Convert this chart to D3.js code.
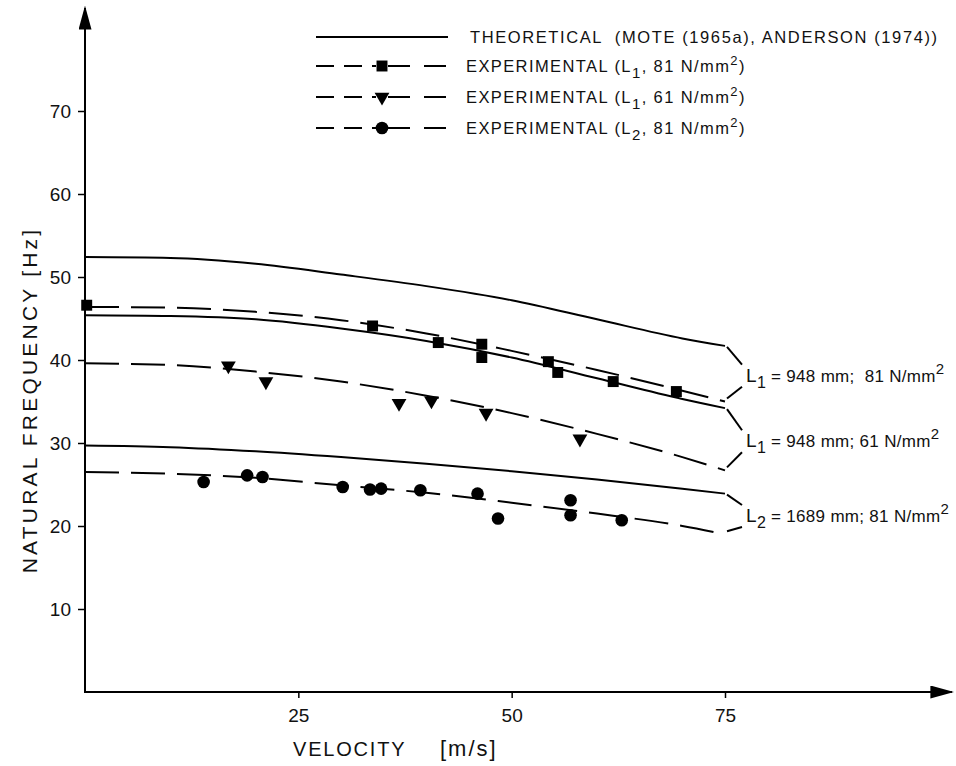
<!DOCTYPE html>
<meta charset="utf-8">
<script src="https://d3js.org/d3.v7.min.js"></script>
<style>
  body { margin: 0; background: #fff; }
  text { font-family: "Liberation Sans", Arial, sans-serif; fill: #111; white-space: pre; }
</style>
<div id="my_dataviz"></div>
<script>

// velocity grid for the smooth curves [m/s]
var velocityGrid = [0, 10, 20, 30, 40, 50, 60, 70, 75];

// theoretical curves [Hz]
var theoryL1_81 = [52.4, 52.3, 51.6, 50.3, 48.9, 47.2, 44.9, 42.6, 41.7];
var theoryL1_61 = [45.4, 45.3, 44.9, 43.8, 42.3, 40.3, 37.8, 35.3, 34.2];
var theoryL2_81 = [29.7, 29.5, 29.0, 28.3, 27.5, 26.6, 25.6, 24.5, 23.9];

// experimental fitted (dashed) curves [Hz]
var expL1_81 = [46.4, 46.3, 45.8, 44.8, 43.2, 41.1, 38.8, 36.3, 35.0];
var expL1_61 = [39.6, 39.4, 38.6, 37.4, 35.7, 33.6, 31.1, 28.3, 26.7];
var expL2_81 = [26.5, 26.3, 25.8, 24.9, 24.0, 22.8, 21.5, 20.0, 19.0];

// measured points [velocity, frequency]
var squaresL1_81 = [[0.2, 46.6], [33.7, 44.1], [41.4, 42.1], [46.5, 41.9], [46.5, 40.3],
                    [54.3, 39.8], [55.4, 38.5], [61.9, 37.4], [69.3, 36.2]];
var trianglesL1_61 = [[16.8, 39.3], [21.2, 37.4], [36.8, 34.8], [40.6, 35.1], [47.0, 33.6], [58.0, 30.5]];
var circlesL2_81 = [[13.9, 25.3], [19.0, 26.1], [20.8, 25.9], [30.2, 24.7], [33.4, 24.4], [34.7, 24.5],
                    [39.3, 24.3], [46.0, 23.9], [48.4, 20.9], [56.9, 23.1], [56.9, 21.3], [62.9, 20.7]];

var xTicks = [25, 50, 75];
var yTicks = [10, 20, 30, 40, 50, 60, 70];

var width = 956, height = 766;

var svg = d3.select("#my_dataviz")
    .append("svg")
    .attr("width", width)
    .attr("height", height);

var x = d3.scaleLinear().domain([0, 75]).range([85, 725]);
var y = d3.scaleLinear().domain([0, 70]).range([692, 111]);

// arrow heads
var defs = svg.append("defs");
defs.append("marker")
    .attr("id", "arrow")
    .attr("viewBox", "0 0 10 10")
    .attr("refX", 9).attr("refY", 5)
    .attr("markerWidth", 24).attr("markerHeight", 13)
    .attr("markerUnits", "userSpaceOnUse")
    .attr("orient", "auto")
    .attr("preserveAspectRatio", "none")
    .append("path")
    .attr("d", "M0,0 L10,5 L0,10 Z")
    .attr("fill", "#000");

// axis lines with arrows
svg.append("line")
    .attr("x1", x(0)).attr("y1", y(0)).attr("x2", 952).attr("y2", y(0))
    .attr("stroke", "#000").attr("stroke-width", 2)
    .attr("marker-end", "url(#arrow)");
svg.append("line")
    .attr("x1", x(0)).attr("y1", y(0) + 1).attr("x2", x(0)).attr("y2", 8)
    .attr("stroke", "#000").attr("stroke-width", 2)
    .attr("marker-end", "url(#arrow)");

// ticks
var xAxis = svg.append("g")
    .attr("transform", "translate(0," + y(0) + ")")
    .call(d3.axisBottom(x).tickValues(xTicks).tickSize(6).tickPadding(11));
var yAxis = svg.append("g")
    .attr("transform", "translate(" + x(0) + ",0)")
    .call(d3.axisLeft(y).tickValues(yTicks).tickSize(7).tickPadding(7));
[xAxis, yAxis].forEach(function (g) {
    g.attr("font-size", null).attr("font-family", null);
    g.select(".domain").remove();
    g.selectAll(".tick line").attr("stroke", "#000").attr("stroke-width", 1.5);
    g.selectAll("text").style("font-size", "19px").attr("fill", "#222");
});

// axis titles
svg.append("text")
    .attr("x", 293).attr("y", 756)
    .attr("font-size", 20).attr("letter-spacing", 1.8)
    .text("VELOCITY");
svg.append("text")
    .attr("x", 440).attr("y", 756)
    .attr("font-size", 22).attr("letter-spacing", 2)
    .text("[m/s]");
svg.append("text")
    .attr("transform", "translate(37,400) rotate(-90)")
    .attr("text-anchor", "middle")
    .attr("font-size", 21).attr("letter-spacing", 3.2)
    .text("NATURAL FREQUENCY [Hz]");

// curves
var line = d3.line()
    .x(function (d) { return x(d[0]); })
    .y(function (d) { return y(d[1]); })
    .curve(d3.curveMonotoneX);

function pairs(vals) { return velocityGrid.map(function (v, i) { return [v, vals[i]]; }); }

[theoryL1_81, theoryL1_61, theoryL2_81].forEach(function (vals) {
    svg.append("path")
        .datum(pairs(vals))
        .attr("fill", "none").attr("stroke", "#000").attr("stroke-width", 2)
        .attr("d", line);
});
[expL1_81, expL1_61, expL2_81].forEach(function (vals) {
    svg.append("path")
        .datum(pairs(vals))
        .attr("fill", "none").attr("stroke", "#000").attr("stroke-width", 2)
        .attr("stroke-dasharray", "34,12")
        .attr("d", line);
});

// markers
var sq = d3.symbol().type(d3.symbolSquare).size(120);
var tri = d3.symbol().type(d3.symbolTriangle).size(95);
var circ = d3.symbol().type(d3.symbolCircle).size(125);

svg.selectAll(".sq").data(squaresL1_81).enter().append("path")
    .attr("class", "sq").attr("d", sq).attr("fill", "#000")
    .attr("transform", function (d) { return "translate(" + x(d[0]) + "," + y(d[1]) + ")"; });
svg.selectAll(".tri").data(trianglesL1_61).enter().append("path")
    .attr("class", "tri").attr("d", tri).attr("fill", "#000")
    .attr("transform", function (d) { return "translate(" + x(d[0]) + "," + y(d[1]) + ") rotate(180)"; });
svg.selectAll(".circ").data(circlesL2_81).enter().append("path")
    .attr("class", "circ").attr("d", circ).attr("fill", "#000")
    .attr("transform", function (d) { return "translate(" + x(d[0]) + "," + y(d[1]) + ")"; });

// right hand brackets with case labels
var cases = [
    { upper: theoryL1_81, lower: expL1_81, sub: "1", mid: " = 948 mm;  81 N/mm" },
    { upper: theoryL1_61, lower: expL1_61, sub: "1", mid: " = 948 mm; 61 N/mm" },
    { upper: theoryL2_81, lower: expL2_81, sub: "2", mid: " = 1689 mm; 81 N/mm" }
];
cases.forEach(function (c) {
    var xe = x(75);
    var yu = y(c.upper[c.upper.length - 1]);
    var yl = y(c.lower[c.lower.length - 1]);
    var ym = (yu + yl) / 2 + 4;
    svg.append("path")
        .attr("d", "M" + (xe + 2) + "," + (yu + 1) + " L" + (xe + 17) + "," + (ym - 13))
        .attr("stroke", "#000").attr("stroke-width", 2).attr("fill", "none");
    svg.append("path")
        .attr("d", "M" + (xe + 17) + "," + (ym + 9) + " L" + (xe + 2) + "," + (yl - 3))
        .attr("stroke", "#000").attr("stroke-width", 2).attr("fill", "none");
    var t = svg.append("text")
        .attr("x", xe + 21).attr("y", ym + 4)
        .attr("font-size", 17).attr("letter-spacing", 0.3);
    t.append("tspan").attr("font-size", 19).text("L");
    t.append("tspan").attr("dy", 6).attr("font-size", 16).text(c.sub);
    t.append("tspan").attr("dy", -6).text(c.mid);
    t.append("tspan").attr("dy", -8).attr("font-size", 15).text("2");
});

// legend
var legendRows = [
    { y: 37, dash: false, sym: null, parts: ["THEORETICAL  (MOTE (1965a), ANDERSON (1974))"] },
    { y: 66, dash: true, sym: sq, parts: ["EXPERIMENTAL (L", "1", ", 81 N/mm", "2", ")"] },
    { y: 97, dash: true, sym: tri, parts: ["EXPERIMENTAL (L", "1", ", 61 N/mm", "2", ")"] },
    { y: 128, dash: true, sym: circ, parts: ["EXPERIMENTAL (L", "2", ", 81 N/mm", "2", ")"] }
];
legendRows.forEach(function (r) {
    if (r.dash) {
        svg.append("line").attr("x1", 316).attr("x2", 376).attr("y1", r.y).attr("y2", r.y)
            .attr("stroke", "#000").attr("stroke-width", 2).attr("stroke-dasharray", "18,10");
        svg.append("line").attr("x1", 388).attr("x2", 448).attr("y1", r.y).attr("y2", r.y)
            .attr("stroke", "#000").attr("stroke-width", 2).attr("stroke-dasharray", "22,14");
        svg.append("path").attr("d", r.sym).attr("fill", "#000")
            .attr("transform", "translate(382," + r.y + ")" + (r.sym === tri ? " rotate(180)" : ""));
    } else {
        svg.append("line").attr("x1", 316).attr("x2", 448).attr("y1", r.y).attr("y2", r.y)
            .attr("stroke", "#000").attr("stroke-width", 2);
    }
    var t = svg.append("text")
        .attr("x", r.dash ? 466 : 470).attr("y", r.y + 6)
        .attr("font-size", 16.5).attr("letter-spacing", 1.4);
    if (r.parts.length === 1) {
        t.attr("letter-spacing", 1.6).text(r.parts[0]);
    } else {
        t.append("tspan").text(r.parts[0]);
        t.append("tspan").attr("dy", 6).attr("font-size", 15).text(r.parts[1]);
        t.append("tspan").attr("dy", -6).text(r.parts[2]);
        t.append("tspan").attr("dy", -7).attr("font-size", 13).text(r.parts[3]);
        t.append("tspan").attr("dy", 7).text(r.parts[4]);
    }
});

</script>
